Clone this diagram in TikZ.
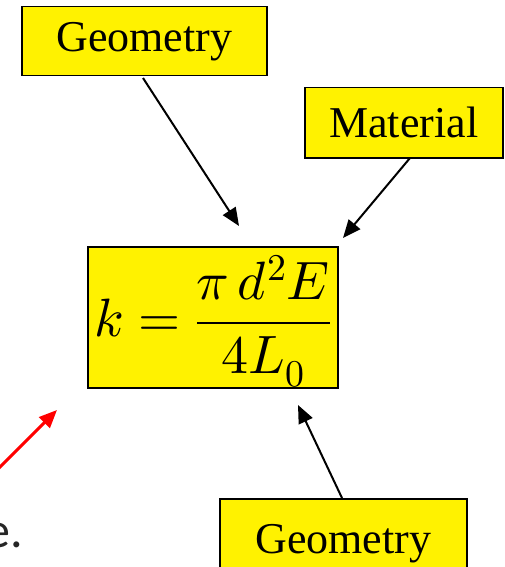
\documentclass[tikz,border=0pt]{standalone}
\usepackage{fontspec}
\usepackage{unicode-math}
\setmainfont{Liberation Serif}
\setmathfont{Latin Modern Math}
\newfontfamily\bodyfont{Carlito}
\usetikzlibrary{arrows.meta}
\begin{document}
\begin{tikzpicture}[x=1pt,y=-1pt,
  ybox/.style={draw=black,line width=1.5pt,fill=yellow,inner sep=0pt,anchor=north west},
  lbl/.style={font=\fontsize{44}{50}\selectfont},
  conn/.style={line width=2pt,-{Triangle[length=18pt,width=15pt]}}]
\useasboundingbox (0,0) rectangle (505,567);
\node[ybox,minimum width=245pt,minimum height=69pt] (g1) at (21,6) {};
\node[lbl] (g1t) at (g1.center) {Geometry};
\node[ybox,minimum width=198pt,minimum height=70pt] (mat) at (304,87) {};
\node[lbl] (matt) at (mat.center) {Material};
\node[ybox,minimum width=250pt,minimum height=141pt] (f) at (87,246) {};
\node[font=\fontsize{54}{64}\selectfont] (ft) at ([yshift=-4pt]f.center) {$k=\displaystyle\frac{\pi\,d^2E}{4L_0}$};
\node[ybox,minimum width=247pt,minimum height=80pt] (g2) at (219,498) {};
\node[lbl] (g2t) at ([yshift=-5pt]g2.center) {Geometry};
\coordinate (a1s) at (143,78); \coordinate (a1e) at (239,226);
\coordinate (a2s) at (410,158); \coordinate (a2e) at (343,238);
\coordinate (a3s) at (342,498); \coordinate (a3e) at (298,405);
\coordinate (rs) at (-6,473); \coordinate (re) at (57,410);
\draw[conn] (a1s) -- (a1e);
\draw[conn] (a2s) -- (a2e);
\draw[conn] (a3s) -- (a3e);
\draw[line width=3pt,red,-{Triangle[length=18pt,width=15pt]}] (rs) -- (re);
\node[font=\bodyfont\fontsize{50}{60}\selectfont,text=black!85,anchor=base east,inner sep=0pt] (etxt) at (23,547) {e.};
\node[font=\bodyfont\fontsize{68}{80}\selectfont,text=black!45,anchor=base east,inner sep=0pt] (ntxt) at (2,350) {n};
\end{tikzpicture}
\end{document}
